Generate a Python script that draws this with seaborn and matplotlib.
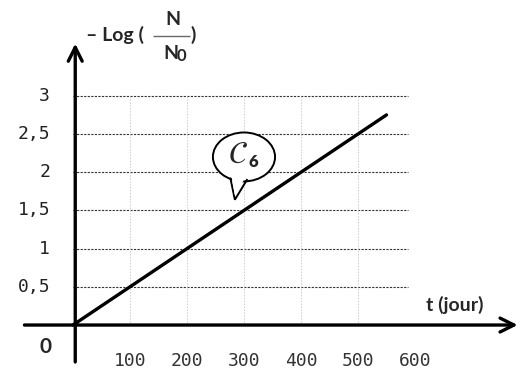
import matplotlib
matplotlib.use("Agg")
import matplotlib.pyplot as plt
import seaborn as sns
import pandas as pd
from matplotlib.patches import Ellipse, Polygon

# Data
t_days = [0, 100, 200, 300, 400, 500, 550]
minus_log = [0, 0.5, 1.0, 1.5, 2.0, 2.5, 2.75]
x_ticks = [100, 200, 300, 400, 500, 600]
y_ticks = [0.5, 1, 1.5, 2, 2.5, 3]
y_tick_labels = ["0,5", "1", "1,5", "2", "2,5", "3"]

sns.set_style("white")
plt.rcParams["font.family"] = ["Lato", "DejaVu Sans"]
plt.rcParams["mathtext.fontset"] = "stix"

fig = plt.figure(figsize=(5.29, 3.74), dpi=100)
ax = fig.add_axes([0, 0, 1, 1])
ax.set_xlim(-128, 800)
ax.set_ylim(-0.641, 4.254)
ax.axis("off")

# grid
for yv in y_ticks:
    ax.hlines(yv, 0, 588, colors="#333333", linestyles=(0, (2, 1.2)), linewidth=0.8)
for xv in x_ticks[:-1]:
    ax.vlines(xv, 0, 3, colors="#cccccc", linestyles=(0, (1.5, 1.5)), linewidth=0.7)

# axes arrows
ax.annotate("", xy=(785, 0), xytext=(-90, 0),
            arrowprops=dict(arrowstyle="->", lw=2.4, color="black", mutation_scale=25))
ax.annotate("", xy=(4, 3.72), xytext=(4, -0.52),
            arrowprops=dict(arrowstyle="->", lw=2.4, color="black", mutation_scale=25))

# data line
df = pd.DataFrame({"t": t_days, "y": minus_log})
sns.lineplot(data=df, x="t", y="y", ax=ax, color="black", linewidth=2.4)

# tick labels
for xv in x_ticks:
    ax.text(xv, -0.47, str(xv), ha="center", va="center", fontsize=13,
            color="#333333", family="DejaVu Sans Mono")
for yv, lab in zip(y_ticks, y_tick_labels):
    ax.text(-40, yv, lab, ha="right", va="center", fontsize=13,
            color="#222222", family="DejaVu Sans Mono")

ax.text(-49, -0.29, "0", ha="center", va="center", fontsize=15, fontweight="bold")
ax.text(670, 0.26, "t (jour)", ha="center", va="center", fontsize=14, fontweight="bold")

# y label: - Log (N / N0)
ax.text(22, 3.80, "– Log (", ha="left", va="center", fontsize=14, fontweight="bold")
ax.text(175, 4.0, "N", ha="center", va="center", fontsize=14, fontweight="bold")
ax.hlines(3.78, 140, 205, colors="#666666", linewidth=1)
ax.text(171, 3.56, "N", ha="center", va="center", fontsize=14, fontweight="bold")
ax.text(190, 3.52, "0", ha="center", va="center", fontsize=12, fontweight="bold")
ax.text(207, 3.80, ")", ha="left", va="center", fontsize=14, fontweight="bold")

# speech bubble with curve name
bubble = Ellipse((300, 2.20), 109, 0.64, facecolor="white", edgecolor="black", lw=1.4, zorder=5)
ax.add_patch(bubble)
ax.add_patch(Polygon([(276, 1.93), (284, 1.64), (306, 1.91)], closed=False,
                     facecolor="none", edgecolor="black", lw=1.4, zorder=6))
ax.add_patch(Polygon([(278, 1.95), (284, 1.70), (304, 1.95)], closed=True,
                     facecolor="white", edgecolor="none", zorder=6))
ax.text(290, 2.24, r"$\mathcal{C}$", ha="center", va="center", fontsize=22, zorder=7)
ax.text(316, 2.14, "6", ha="center", va="center", fontsize=12, fontweight="heavy", zorder=7)

fig.savefig("out.png", dpi=100)
